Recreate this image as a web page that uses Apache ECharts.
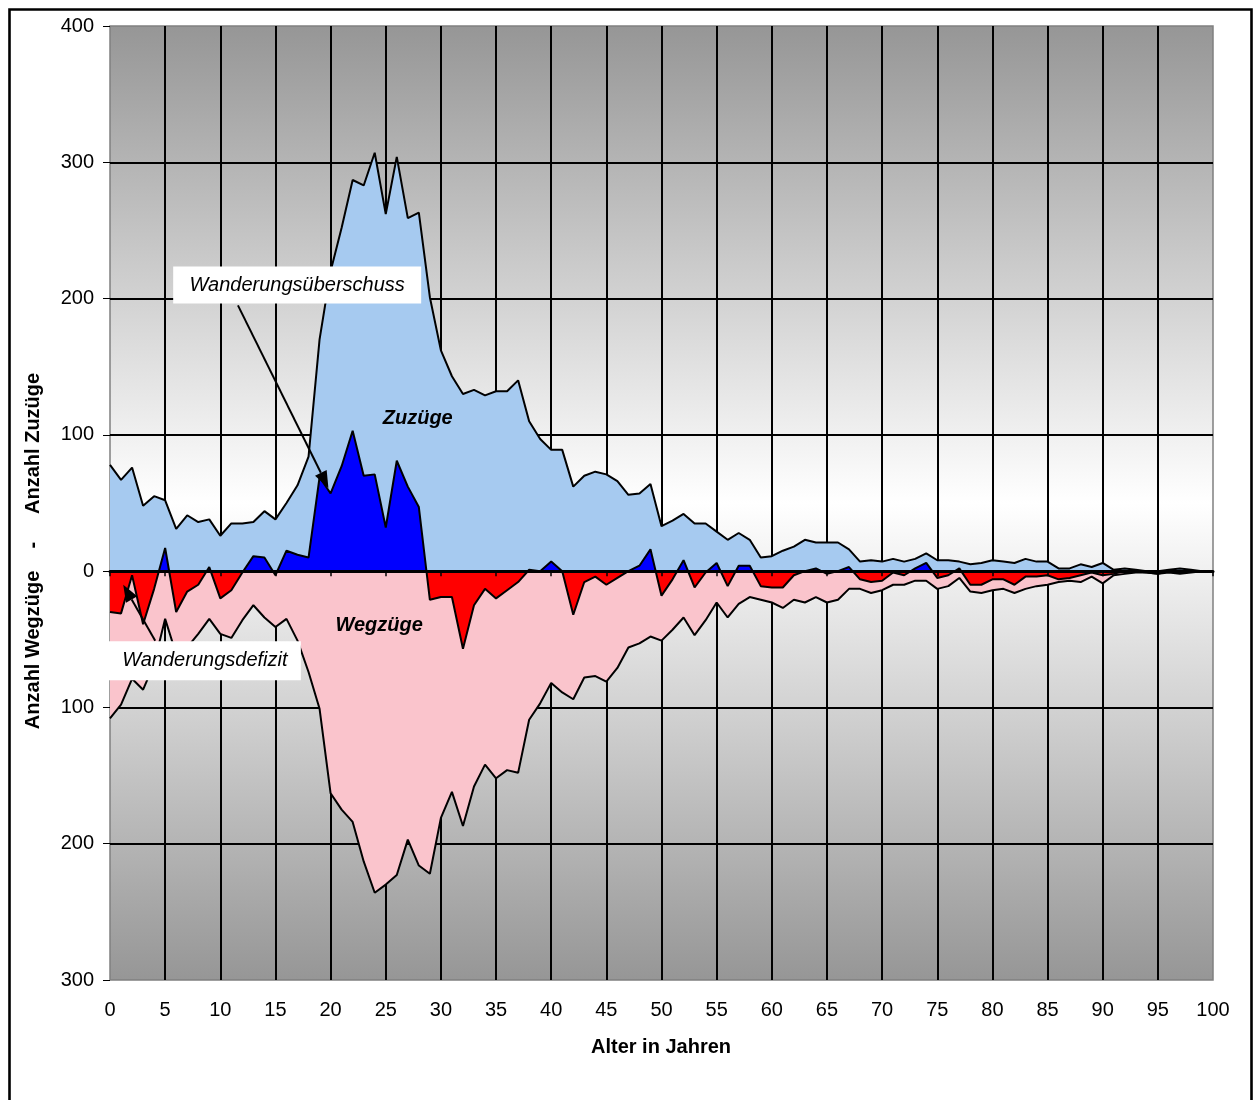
<!DOCTYPE html>
<html>
<head>
<meta charset="utf-8">
<script src="https://cdn.jsdelivr.net/npm/echarts@6/dist/echarts.min.js"></script>
<style>
  html, body { margin: 0; padding: 0; background: #ffffff; }
  #chart { width: 1258px; height: 1100px; }
</style>
</head>
<body>
<div id="chart"></div>
<script>
// Age groups 0..100 (years)
const ages = Array.from({ length: 101 }, (_, i) => i);

// Arrivals per age (Zuzüge)
const zuzuege = [
  78, 67, 76, 48, 55, 52, 31, 41, 36, 38,
  26, 35, 35, 36, 44, 38, 50, 63, 84, 170,
  220, 252, 287, 283, 307, 262, 304, 259, 263, 201,
  162, 143, 130, 133, 129, 132, 132, 140, 110, 97,
  89, 89, 62, 70, 73, 71, 66, 56, 57, 64,
  33, 37, 42, 35, 35, 29, 23, 28, 23, 10,
  11, 15, 18, 23, 21, 21, 21, 16, 7, 8,
  7, 9, 7, 9, 13, 8, 8, 7, 5, 6,
  8, 7, 6, 9, 7, 7, 2, 2, 5, 3,
  6, 1, 2, 1, 0, 0, 1, 2, 1, 0,
  0
];

// Departures per age (Wegzüge), drawn below the zero line
const wegzuege = [
  108, 98, 79, 87, 68, 35, 61, 56, 46, 35,
  46, 49, 36, 25, 34, 41, 35, 51, 74, 101,
  163, 175, 184, 213, 236, 230, 223, 197, 216, 222,
  181, 162, 187, 158, 142, 152, 146, 148, 109, 97,
  82, 89, 94, 78, 77, 81, 71, 56, 53, 48,
  51, 43, 34, 47, 36, 23, 34, 24, 19, 21,
  23, 27, 21, 23, 19, 23, 21, 13, 13, 16,
  14, 10, 10, 7, 7, 13, 11, 5, 15, 16,
  14, 13, 16, 13, 11, 10, 8, 7, 8, 4,
  9, 3, 2, 1, 1, 2, 1, 2, 1, 0,
  0
];

// Net migration per age (surplus > 0, deficit < 0)
const saldo = [
  -30, -31, -3, -39, -13, 17, -30, -15, -10, 3,
  -20, -14, -1, 11, 10, -3, 15, 12, 10, 69,
  57, 77, 103, 70, 71, 32, 81, 62, 47, -21,
  -19, -19, -57, -25, -13, -20, -14, -8, 1, 0,
  7, 0, -32, -8, -4, -10, -5, 0, 4, 16,
  -18, -6, 8, -12, -1, 6, -11, 4, 4, -11,
  -12, -12, -3, 0, 2, -2, 0, 3, -6, -8,
  -7, -1, -3, 2, 6, -5, -3, 2, -10, -10,
  -6, -6, -10, -4, -4, -3, -6, -5, -3, -1,
  -3, -2, 0, 0, -1, -2, 0, 0, 0, 0,
  0
];

const FONT = 'Liberation Sans, Arial, Helvetica, sans-serif';
const SURPLUS_COLOR = '#0000ff';
const DEFICIT_COLOR = '#ff0000';

const chart = echarts.init(document.getElementById('chart'), null, { renderer: 'canvas' });

chart.setOption({
  animation: false,
  backgroundColor: '#ffffff',
  grid: {
    left: 110, top: 26, right: 45, bottom: 120,
    show: true,
    backgroundColor: {
      type: 'linear', x: 0, y: 0, x2: 0, y2: 1,
      colorStops: [
        { offset: 0, color: '#969696' },
        { offset: 0.5, color: '#ffffff' },
        { offset: 1, color: '#969696' }
      ]
    },
    borderColor: '#808080',
    borderWidth: 1.5
  },
  xAxis: [
    {
      type: 'value', min: 0, max: 100, interval: 5, position: 'bottom',
      axisLine: { show: false, onZero: false },
      axisTick: { show: false },
      axisLabel: { fontSize: 20, color: '#000', fontFamily: FONT, margin: 20 },
      splitLine: { show: true, showMinLine: false, showMaxLine: false, lineStyle: { color: '#000', width: 2 } }
    },
    {
      // zero line with its tick marks, drawn above the areas
      type: 'value', min: 0, max: 100, interval: 5, position: 'bottom', z: 10,
      axisLine: { show: true, onZero: true, lineStyle: { color: '#000', width: 3 } },
      axisTick: { show: true, length: 5, lineStyle: { color: '#000', width: 1.5 } },
      axisLabel: { show: false },
      splitLine: { show: false }
    }
  ],
  yAxis: {
    type: 'value', min: -300, max: 400, interval: 100,
    axisLine: { show: false },
    axisTick: { show: true, length: 7, lineStyle: { color: '#000', width: 1 } },
    axisLabel: {
      fontSize: 20, color: '#000', fontFamily: FONT, margin: 16,
      formatter: v => String(Math.abs(v))
    },
    splitLine: { show: true, showMinLine: false, showMaxLine: false, lineStyle: { color: '#000', width: 2 } }
  },
  series: [
    {
      name: 'Zuzüge', type: 'line', xAxisIndex: 0, yAxisIndex: 0,
      data: ages.map(a => [a, zuzuege[a]]),
      symbol: 'none', silent: true, z: 2,
      lineStyle: { color: '#000', width: 2 },
      areaStyle: { color: '#a6caf0', opacity: 1 }
    },
    {
      name: 'Wegzüge', type: 'line', xAxisIndex: 0, yAxisIndex: 0,
      data: ages.map(a => [a, -wegzuege[a]]),
      symbol: 'none', silent: true, z: 2,
      lineStyle: { color: '#000', width: 2 },
      areaStyle: { color: '#fac4cc', opacity: 1 }
    },
    {
      name: 'Saldo', type: 'line', xAxisIndex: 0, yAxisIndex: 0,
      data: ages.map(a => [a, saldo[a]]),
      symbol: 'none', silent: true, z: 3,
      lineStyle: { color: '#000', width: 2 },
      areaStyle: { color: SURPLUS_COLOR, opacity: 1 }
    }
  ]
});

// Annotations anchored in data coordinates (age, count)
const toPx = p => chart.convertToPixel({ xAxisIndex: 0, yAxisIndex: 0 }, p);

// Net area: blue above the zero line, red below it (hard split at y = 0)
const yTop = toPx([0, 400])[1];
const yBottom = toPx([0, -300])[1];
const yZero = toPx([0, 0])[1];
const zeroStop = (yZero - yTop) / (yBottom - yTop);
const netFill = {
  type: 'linear', global: true, x: 0, y: yTop, x2: 0, y2: yBottom,
  colorStops: [
    { offset: 0, color: SURPLUS_COLOR },
    { offset: zeroStop, color: SURPLUS_COLOR },
    { offset: zeroStop, color: DEFICIT_COLOR },
    { offset: 1, color: DEFICIT_COLOR }
  ]
};

function arrow(from, to) {
  const [x1, y1] = toPx(from);
  const [x2, y2] = toPx(to);
  const dx = x2 - x1, dy = y2 - y1, len = Math.hypot(dx, dy);
  const ux = dx / len, uy = dy / len;
  const head = 17, half = 6.5;
  const bx = x2 - ux * head, by = y2 - uy * head;
  return [
    { type: 'line', z: 60, silent: true,
      shape: { x1: x1, y1: y1, x2: bx, y2: by },
      style: { stroke: '#000', lineWidth: 2 } },
    { type: 'polygon', z: 60, silent: true,
      shape: { points: [[x2, y2], [bx - uy * half, by + ux * half], [bx + uy * half, by - ux * half]] },
      style: { fill: '#000' } }
  ];
}

function labelBox(center, w, h, text) {
  const [cx, cy] = toPx(center);
  return [
    { type: 'rect', z: 50, silent: true,
      shape: { x: cx - w / 2, y: cy - h / 2, width: w, height: h },
      style: { fill: '#ffffff' } },
    { type: 'text', z: 51, silent: true, x: cx, y: cy,
      style: { text: text, font: 'italic 20px ' + FONT, fill: '#000', align: 'center', verticalAlign: 'middle' } }
  ];
}

function areaName(center, text) {
  const [cx, cy] = toPx(center);
  return { type: 'text', z: 40, silent: true, x: cx, y: cy,
    style: { text: text, font: 'italic bold 20px ' + FONT, fill: '#000', align: 'center', verticalAlign: 'middle' } };
}

const graphics = [
  // outer frame
  { type: 'rect', z: 0, silent: true,
    shape: { x: 9.5, y: 9.5, width: 1242, height: 1200 },
    style: { fill: 'none', stroke: '#000', lineWidth: 2.6 } },
  // axis titles
  { type: 'text', z: 40, silent: true, x: 661, y: 1047,
    style: { text: 'Alter in Jahren', font: 'bold 20px ' + FONT, fill: '#000', align: 'center', verticalAlign: 'middle' } },
  { type: 'text', z: 40, silent: true, x: 33, y: 551, rotation: Math.PI / 2,
    style: { text: 'Anzahl Wegzüge    -     Anzahl Zuzüge', font: 'bold 20px ' + FONT, fill: '#000', align: 'center', verticalAlign: 'middle' } },
  areaName([27.9, 112], 'Zuzüge'),
  areaName([24.4, -40], 'Wegzüge')
]
  .concat(arrow([11.6, 195], [19.8, 61]))
  .concat(labelBox([16.97, 210], 248, 37, 'Wanderungsüberschuss'))
  .concat(arrow([4.1, -51], [1.2, -10]))
  .concat(labelBox([8.6, -65.7], 192, 39, 'Wanderungsdefizit'));

chart.setOption({
  series: [{}, {}, { areaStyle: { color: netFill, opacity: 1 } }],
  graphic: graphics
});
</script>
</body>
</html>
